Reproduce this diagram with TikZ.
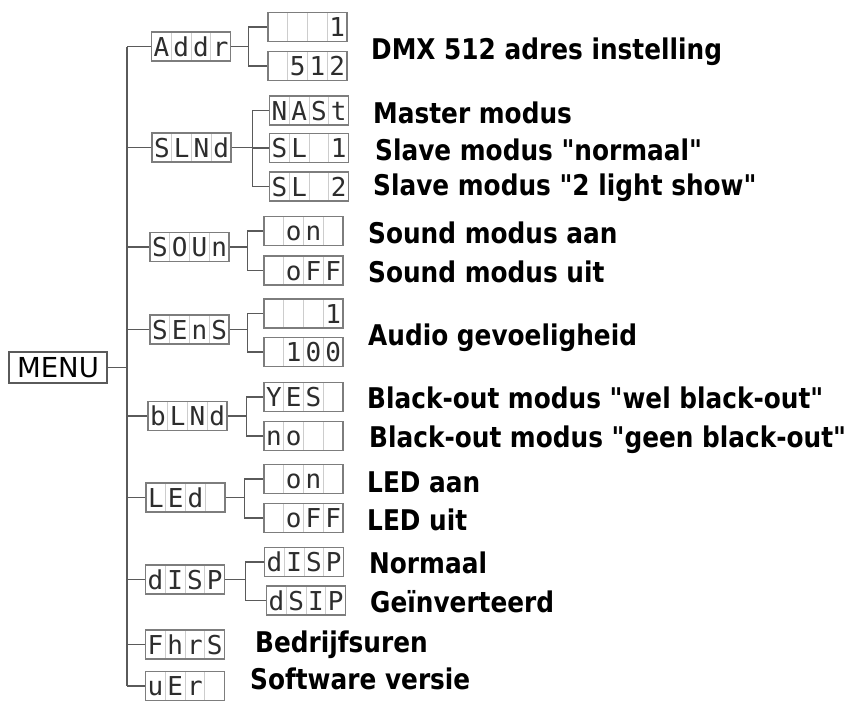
\documentclass[tikz,border=0pt]{standalone}
\usepackage{fontspec}
\usetikzlibrary{calc}
\setmainfont{DejaVu Sans}
\newfontfamily\lblfont[FakeStretch=0.87]{DejaVu Sans}
\newfontfamily\segfont{DejaVu Sans Mono}
\definecolor{wire}{RGB}{90,90,90}
\definecolor{frame}{RGB}{125,125,125}
\definecolor{cell}{RGB}{205,205,205}
\definecolor{seg}{RGB}{45,45,45}
% four display cells
\newcommand{\digits}[4]{\makebox[19.75pt]{#1}\makebox[19.75pt]{#2}\makebox[19.75pt]{#3}\makebox[19.75pt]{#4}}

\begin{document}
\begin{tikzpicture}[x=1pt, y=-1pt,
    link/.style={draw=wire, line width=1.5pt},
    lcd/.style={rectangle, draw=frame, line width=1.4pt, minimum width=79pt, minimum height=29pt, inner sep=0pt, text height=19pt, text depth=0pt, text=seg, font=\segfont\fontsize{26}{26}\selectfont,
        path picture={\foreach \k in {1,2,3} \draw[cell, line width=1pt] ($(path picture bounding box.north west)!\k/4!(path picture bounding box.north east)$) -- ($(path picture bounding box.south west)!\k/4!(path picture bounding box.south east)$);}},
    menubox/.style={rectangle, draw=wire, line width=1.8pt, minimum width=98pt, minimum height=31pt, inner sep=0pt, font=\fontsize{27.5}{28}\selectfont},
    lbl/.style={anchor=base west, inner sep=0pt, font=\lblfont\bfseries\fontsize{28.5}{30}\selectfont}
]
    \useasboundingbox (0,0) rectangle (853,702);

    % Main menu box
    \node[menubox] (menu) at (58,367.5) {MENU};

    % First level displays
    \node[lcd] (addr) at (191,46.5) {\digits{A}{d}{d}{r}};
    \node[lcd] (slnd) at (191.5,147.5) {\digits{S}{L}{N}{d}};
    \node[lcd] (soun) at (189.5,247) {\digits{S}{O}{U}{n}};
    \node[lcd] (sens) at (189.5,329.5) {\digits{S}{E}{n}{S}};
    \node[lcd] (blnd) at (187.5,416) {\digits{b}{L}{N}{d}};
    \node[lcd] (led) at (185.5,497.5) {\digits{L}{E}{d}{}};
    \node[lcd] (disp) at (185,579.5) {\digits{d}{I}{S}{P}};
    \node[lcd] (fhrs) at (185,644.5) {\digits{F}{h}{r}{S}};
    \node[lcd] (ver) at (185,686) {\digits{u}{E}{r}{}};

    % Second level displays
    \node[lcd] (ad1) at (307.5,27) {\digits{}{}{}{1}};
    \node[lcd] (ad2) at (307.5,66) {\digits{}{5}{1}{2}};
    \node[lcd] (sl1) at (309,110.5) {\digits{N}{A}{S}{t}};
    \node[lcd] (sl2) at (309,148) {\digits{S}{L}{}{1}};
    \node[lcd] (sl3) at (309,186.5) {\digits{S}{L}{}{2}};
    \node[lcd] (so1) at (303.5,231) {\digits{}{o}{n}{}};
    \node[lcd] (so2) at (303.5,270.5) {\digits{}{o}{F}{F}};
    \node[lcd] (se1) at (303.5,313.5) {\digits{}{}{}{1}};
    \node[lcd] (se2) at (303.5,352) {\digits{}{1}{0}{0}};
    \node[lcd] (bl1) at (303.5,397) {\digits{Y}{E}{S}{}};
    \node[lcd] (bl2) at (303.5,436) {\digits{n}{o}{}{}};
    \node[lcd] (le1) at (303.5,479) {\digits{}{o}{n}{}};
    \node[lcd] (le2) at (303.5,518) {\digits{}{o}{F}{F}};
    \node[lcd] (di1) at (304,562) {\digits{d}{I}{S}{P}};
    \node[lcd] (di2) at (306,600.5) {\digits{d}{S}{I}{P}};

    % Descriptions
    \node[lbl] (t-ad) at (371,59) {DMX 512 adres instelling};
    \node[lbl] (t-sl1) at (373,123) {Master modus};
    \node[lbl] (t-sl2) at (375,160) {Slave modus "normaal"};
    \node[lbl] (t-sl3) at (373,195) {Slave modus "2 light show"};
    \node[lbl] (t-so1) at (368,243) {Sound modus aan};
    \node[lbl] (t-so2) at (368,282) {Sound modus uit};
    \node[lbl] (t-se) at (368,345) {Audio gevoeligheid};
    \node[lbl] (t-bl1) at (367,408) {Black-out modus "wel black-out"};
    \node[lbl] (t-bl2) at (369,447) {Black-out modus "geen black-out"};
    \node[lbl] (t-le1) at (367,492) {LED aan};
    \node[lbl] (t-le2) at (367,530) {LED uit};
    \node[lbl] (t-di1) at (369,573) {Normaal};
    \node[lbl] (t-di2) at (370,612) {Geïnverteerd};
    \node[lbl] (t-fh) at (255,652) {Bedrijfsuren};
    \node[lbl] (t-ve) at (250,689) {Software versie};

    % Trunk from MENU
    \coordinate (trunk) at (127,0);
    \draw[link] (addr.west -| trunk) -- (ver.west -| trunk);
    \draw[link] (menu.east) -- (menu.east -| trunk);
    \foreach \n in {addr,slnd,soun,sens,blnd,led,disp,fhrs,ver}
        \draw[link] (\n.west) -- (\n.west -| trunk);

    % Branches to the options
    \foreach \p/\d in {addr/17.5, slnd/21, soun/18, sens/18, blnd/19, led/19, disp/20.5}
        \draw[link] (\p.east) -- ++(\d,0) coordinate (j-\p);
    \foreach \p/\c in {addr/ad1, addr/ad2, slnd/sl1, slnd/sl2, slnd/sl3, soun/so1, soun/so2, sens/se1, sens/se2, blnd/bl1, blnd/bl2, led/le1, led/le2, disp/di1, disp/di2}
        \draw[link] (\c.west) -| (j-\p);
\end{tikzpicture}
\end{document}
